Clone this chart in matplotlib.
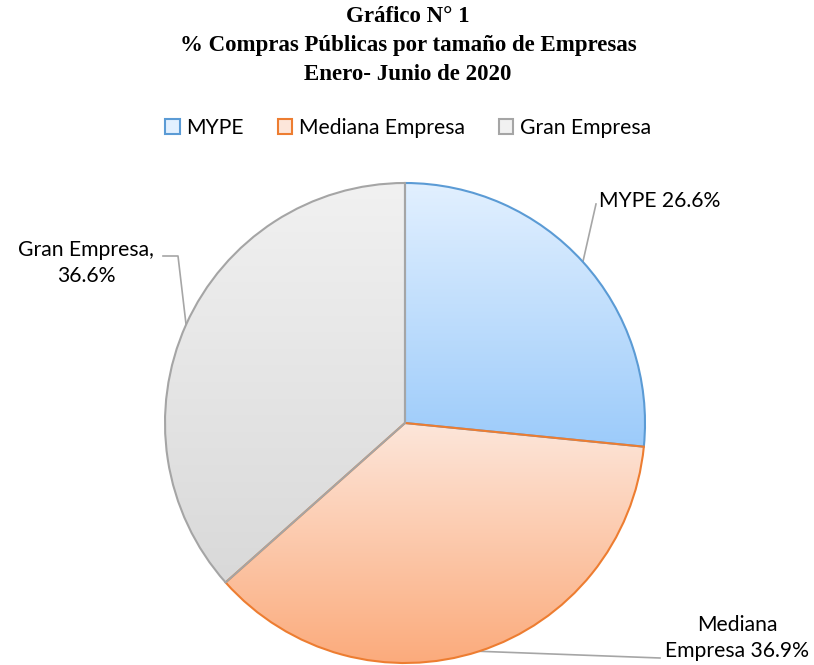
import numpy as np
import matplotlib
matplotlib.use("Agg")
import matplotlib.pyplot as plt
from matplotlib.patches import Patch
from matplotlib.colors import LinearSegmentedColormap

# datos
categorias = ["MYPE", "Mediana Empresa", "Gran Empresa"]
porcentajes = [26.6, 36.9, 36.6]
etiquetas = ["MYPE 26.6%", "Mediana\nEmpresa 36.9%", "Gran Empresa,\n36.6%"]

titulo = "Gráfico N° 1\n% Compras Públicas por tamaño de Empresas\nEnero- Junio de 2020"

# colores: (arriba, abajo, borde)
colores = [
    ("#e2f0ff", "#9ccbfa", "#5b9bd5"),
    ("#fde6da", "#fbab7c", "#ed7d31"),
    ("#f1f1f1", "#d9d9d9", "#a5a5a5"),
]

W, H = 814, 665
fig = plt.figure(figsize=(W / 100, H / 100), dpi=100)
ax = fig.add_axes([0, 0, 1, 1])

cx, cy, r = 405, H - 423, 240
texto_font = ["Lato", "DejaVu Sans"]
fs = 15.2

wedges, _ = ax.pie(porcentajes, startangle=90, counterclock=False,
                   center=(cx, cy), radius=r, frame=True)
ax.set_xlim(0, W)
ax.set_ylim(0, H)
ax.set_aspect("equal")
ax.axis("off")

for w, (c1, c2, ce) in zip(wedges, colores):
    w.set_facecolor("none")
    w.set_edgecolor(ce)
    w.set_linewidth(1.5)
    w.set_zorder(3)
    bb = w.get_path().get_extents()
    cmap = LinearSegmentedColormap.from_list("g", [c2, c1])
    grad = np.linspace(0, 1, 256).reshape(-1, 1)
    im = ax.imshow(grad, cmap=cmap, origin="lower", aspect="auto",
                   extent=(bb.x0, bb.x1, bb.y0, bb.y1), zorder=2)
    im.set_clip_path(w)


def punto_borde(w):
    ang = np.deg2rad((w.theta1 + w.theta2) / 2)
    return cx + r * np.cos(ang), cy + r * np.sin(ang)


linea = dict(color="#a6a6a6", lw=1.2, zorder=1)

# MYPE
x0, y0 = punto_borde(wedges[0])
ax.plot([x0, 596], [y0, H - 204], **linea)
ax.text(599, H - 201, etiquetas[0], fontsize=fs, family=texto_font,
        ha="left", va="center")

# Mediana
x0, y0 = punto_borde(wedges[1])
ax.plot([x0, 660], [y0, H - 658], **linea)
ax.text(737, H - 638, etiquetas[1], fontsize=fs, family=texto_font,
        ha="center", va="center", linespacing=1.35)

# Gran
x0, y0 = punto_borde(wedges[2])
ax.plot([x0, 178, 163], [y0, H - 256, H - 256], **linea)
ax.text(86, H - 263, etiquetas[2], fontsize=fs, family=texto_font,
        ha="center", va="center", linespacing=1.35)

# leyenda
handles = [Patch(facecolor=c1, edgecolor=ce, lw=1.5) for c1, c2, ce in colores]
fig.legend(handles, categorias, loc="center", bbox_to_anchor=(408 / W, 1 - 128 / H),
           ncol=3, frameon=False, handlelength=0.7, handleheight=0.7,
           handletextpad=0.3, columnspacing=1.6,
           prop={"family": texto_font, "size": fs})

fig.text(408 / W, 1 - 45 / H, titulo, ha="center", va="center",
         fontsize=16.5, fontweight="bold", family=["Liberation Serif", "DejaVu Serif"],
         linespacing=1.5)

fig.savefig("out.png", dpi=100)
